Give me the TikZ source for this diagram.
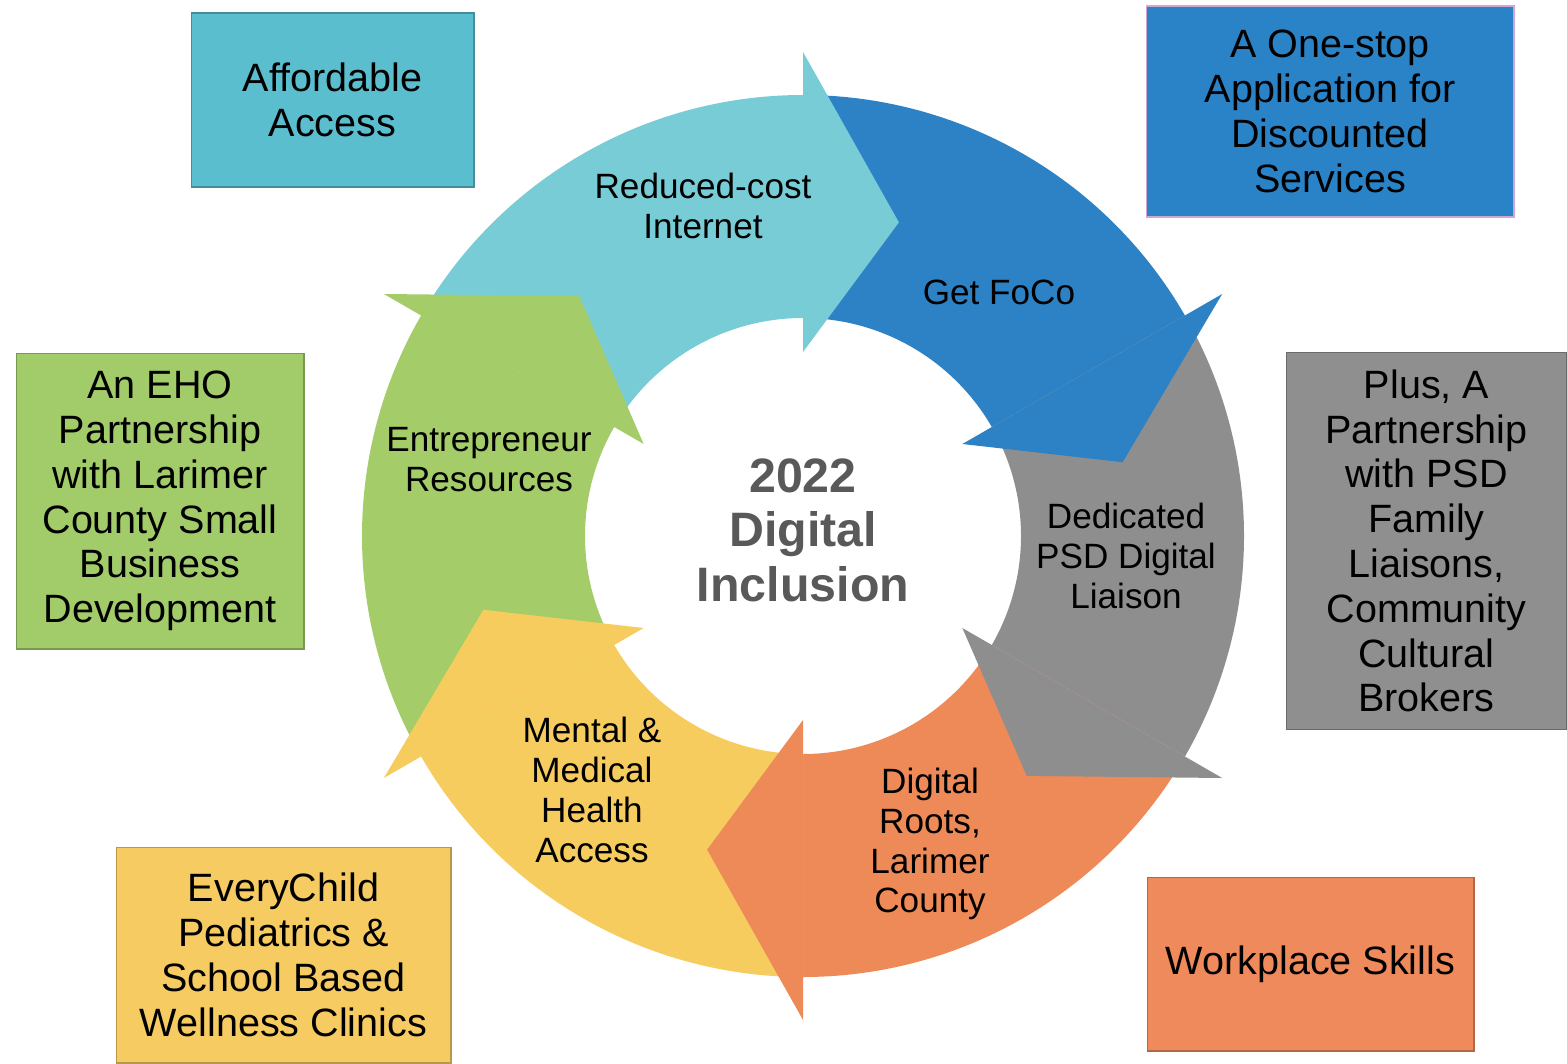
\documentclass[tikz,border=0pt]{standalone}
\usepackage{fontspec}
\setmainfont{Liberation Sans}
\usetikzlibrary{calc}

\definecolor{segcyan}{HTML}{78CCD6}
\definecolor{segblue}{HTML}{2C82C5}
\definecolor{seggray}{HTML}{8E8E8E}
\definecolor{segorange}{HTML}{EE8A57}
\definecolor{segyellow}{HTML}{F6CC5F}
\definecolor{seggreen}{HTML}{A4CC68}
\definecolor{boxcyan}{HTML}{5BBECE}
\definecolor{boxblue}{HTML}{2B83C7}
\definecolor{boxgray}{HTML}{8F8F8F}
\definecolor{boxorange}{HTML}{EF8A5C}
\definecolor{boxyellow}{HTML}{F6CC62}
\definecolor{boxgreen}{HTML}{A2CB6A}
\definecolor{hubgray}{HTML}{595959}

% ring piece from angle #2 down to #3
\newcommand{\ringband}[3]{%
  \fill[#1] (#2:441) arc[start angle=#2, end angle=#3, radius=441]
    -- (#3:218) arc[start angle=#3, end angle=#2, radius=218] -- cycle;}
% arrow head with its base at angle #2
\newcommand{\ringhead}[2]{%
  \fill[#1] (#2:484) -- ({#2-17}:328) -- (#2:184) -- cycle;}

\begin{document}
\begin{tikzpicture}[
        x=0.02cm, y=0.02cm,
        box/.style={draw=#1!75!black, fill=#1, line width=0.6pt, align=center, inner sep=0pt,
            font=\fontsize{22.5}{25.5}\selectfont},
        seglabel/.style={align=center, font=\fontsize{20}{22.7}\selectfont},
        hub/.style={align=center, text=hubgray, font=\fontsize{27.5}{31}\selectfont\bfseries}
    ]
    \useasboundingbox (0,0) rectangle (1567,1063);
    \coordinate (ctr) at (803,527);

    % the cycle
    \begin{scope}[shift={(ctr)}]
        \ringband{segcyan}{150}{90}
        \ringband{segblue}{90}{30}
        \ringband{seggray}{30}{-30}
        \ringband{segorange}{-30}{-90}
        \ringband{segyellow}{-90}{-150}
        \ringband{seggreen}{-150}{-210}
        \ringhead{segcyan}{90}
        \ringhead{segblue}{30}
        \ringhead{seggray}{-30}
        \ringhead{segorange}{-90}
        \ringhead{segyellow}{-150}
        \ringhead{seggreen}{150}
    \end{scope}

    \node[hub] (hub) at (803,533) {2022\\Digital\\Inclusion};

    \node[seglabel] (internet) at (703,857) {Reduced-cost\\Internet};
    \node[seglabel] (foco) at (999,771) {Get FoCo};
    \node[seglabel] (liaison) at (1126,507) {Dedicated\\PSD Digital\\Liaison};
    \node[seglabel] (roots) at (930,219) {Digital\\Roots,\\Larimer\\County};
    \node[seglabel] (health) at (592,273) {Mental \&\\Medical\\Health\\Access};
    \node[seglabel] (entre) at (489,603) {Entrepreneur\\Resources};

    % outer boxes
    \node[box=boxcyan, minimum width=5.66cm, minimum height=3.48cm] (afford) at (332.5,963) {Affordable\\Access};
    \node[box=boxblue, draw=violet!35, minimum width=7.36cm, minimum height=4.22cm] (onestop) at (1330,951.5)
        {A One-stop\\Application for\\Discounted\\Services};
    \node[box=boxgreen, minimum width=5.76cm, minimum height=5.92cm] (eho) at (160,562)
        {An EHO\\Partnership\\with Larimer\\County Small\\Business\\Development};
    \node[box=boxgray, minimum width=5.62cm, minimum height=7.56cm] (plus) at (1426.5,522)
        {Plus, A\\Partnership\\with PSD\\Family\\Liaisons,\\Community\\Cultural\\Brokers};
    \node[box=boxyellow, minimum width=6.70cm, minimum height=4.32cm] (everychild) at (283.5,108)
        {EveryChild\\Pediatrics \&\\School Based\\Wellness Clinics};
    \node[box=boxorange, minimum width=6.54cm, minimum height=3.48cm] (workplace) at (1310.5,99)
        {Workplace Skills};
\end{tikzpicture}
\end{document}
